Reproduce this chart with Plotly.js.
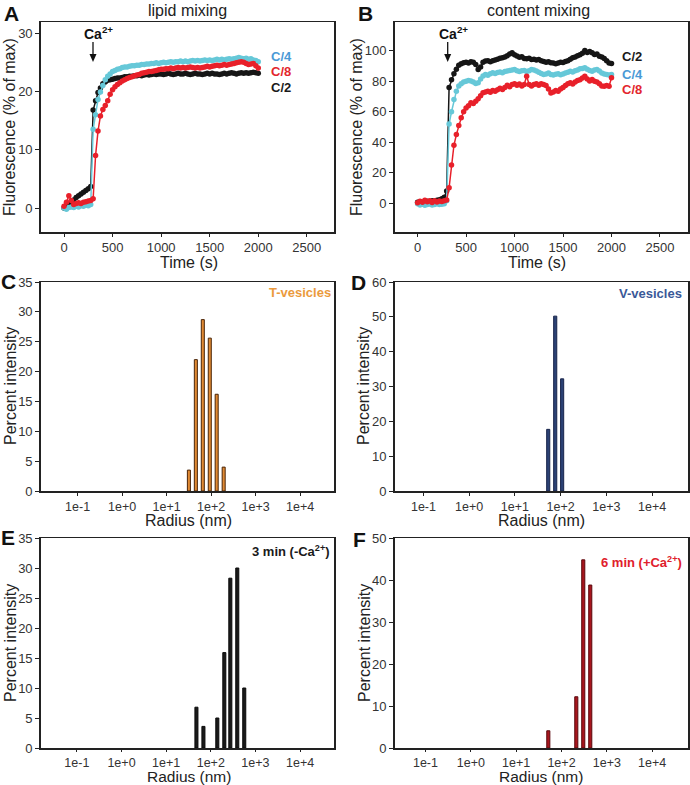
<!DOCTYPE html>
<html>
<head>
<meta charset="utf-8">
<script src="https://cdn.plot.ly/plotly-3.0.1.min.js"></script>
<style>
  body { margin: 0; background: #fff; }
  #graphDiv { width: 690px; height: 785px; }
</style>
</head>
<body>
<div id="graphDiv"></div>
<script>
// Sampling times (s) of the two kinetics panels
var timeS = [0, 25, 50, 75, 100, 125, 150, 175, 200, 225, 250, 275, 300, 325, 350, 375, 400, 425, 450, 475,
    500, 525, 550, 575, 600, 625, 650, 675, 700, 725, 750, 775, 800, 825, 850, 875, 900, 925, 950, 975,
    1000, 1025, 1050, 1075, 1100, 1125, 1150, 1175, 1200, 1225, 1250, 1275, 1300, 1325, 1350, 1375, 1400, 1425, 1450, 1475,
    1500, 1525, 1550, 1575, 1600, 1625, 1650, 1675, 1700, 1725, 1750, 1775, 1800, 1825, 1850, 1875, 1900, 1925, 1950, 1975, 2000];

// A - lipid mixing (% of max)
var lipidC2 = [0.0, 0.4, 0.8, 1.1, 1.4, 1.8, 2.1, 2.4, 2.7, 3.0, 3.3, 3.7,
    16.8, 18.4, 19.8, 20.6, 21.3, 21.6, 21.9, 22.0, 22.1,
    22.2, 22.3, 22.3, 22.4, 22.5, 22.5, 22.6,
    22.6, 22.7, 22.7, 22.8, 22.7, 22.8, 22.9, 22.8, 22.9, 23.0, 22.9, 23.0,
    23.0, 22.9, 23.0, 23.1, 23.0, 22.9, 23.0, 23.1, 23.0, 23.0,
    23.1, 23.0, 22.9, 23.0, 23.1, 23.0, 23.0, 22.9, 23.0, 23.1,
    23.0, 23.1, 23.0, 23.0, 22.9, 23.0, 23.1, 23.0, 23.1, 23.2,
    23.1, 23.0, 23.1, 23.2, 23.1, 23.2, 23.1, 23.2, 23.3, 23.2, 23.1];
var lipidC4 = [0.0, -0.2, 0.1, 0.2, 0.1, 0.3, 0.2, 0.4, 0.3, 0.5, 0.4, 0.6,
    13.5, 16.0, 18.6, 19.9, 21.0, 22.0, 22.6, 23.0, 23.4,
    23.6, 23.8, 23.9, 24.1, 24.2, 24.2, 24.3,
    24.4, 24.4, 24.5, 24.5, 24.6, 24.6, 24.7, 24.7, 24.8, 24.8, 24.9, 24.8,
    24.9, 25.0, 24.9, 25.0, 25.1, 25.0, 25.1, 25.1, 25.2, 25.1,
    25.2, 25.1, 25.2, 25.3, 25.2, 25.3, 25.2, 25.3, 25.4, 25.3,
    25.4, 25.3, 25.4, 25.5, 25.4, 25.5, 25.4, 25.5, 25.6, 25.5,
    25.6, 25.7, 25.8, 25.7, 25.6, 25.7, 25.5, 25.6, 25.4, 25.3, 25.1];
var lipidC8 = [0.3, 1.0, 2.1, 1.3, 0.6, 0.8, 0.9, 0.8, 1.0, 1.1, 1.2, 1.3,
    1.6, 9.0, 13.2, 15.8, 16.9, 17.6, 18.4, 19.5, 20.3,
    20.8, 21.2, 21.5, 21.8, 22.0, 22.2, 22.4,
    22.5, 22.7, 22.8, 22.9, 23.1, 23.2, 23.3, 23.4, 23.4, 23.5, 23.6, 23.7,
    23.8, 23.8, 23.9, 23.9, 24.0, 23.9, 24.0, 24.1, 24.0, 24.1,
    24.0, 24.1, 24.2, 24.1, 24.0, 24.1, 24.0, 24.1, 24.2, 24.3,
    24.2, 24.3, 24.4, 24.5, 24.4, 24.5, 24.6, 24.5, 24.6, 24.7,
    24.8, 24.9, 25.0, 25.1, 25.0, 24.8, 24.6, 24.7, 24.8, 24.4, 24.0];

// B - content mixing (% of max)
var contentC2 = [0.5, 0.8, 0.3, 1.0, 1.2, 0.9, 1.5, 1.3, 1.8, 2.2, 2.8, 3.8,
    8.0, 76.0, 81.0, 85.0, 88.0, 90.5, 91.5, 92.3, 92.5,
    92.0, 92.8, 92.5, 91.0, 87.8, 89.5, 92.5,
    93.3, 93.5, 92.8, 93.6, 94.0, 94.5, 95.2, 95.5, 96.0, 96.8, 98.0, 98.8,
    97.5, 96.6, 95.8, 96.2, 95.0, 94.8, 95.2, 94.4, 94.6, 94.0,
    94.4, 93.5, 93.0, 92.6, 92.8, 92.2, 92.0, 91.6, 92.0, 92.6,
    92.4, 93.0, 93.5, 94.6, 95.5, 96.0, 96.8, 97.5, 98.5, 100.3,
    99.0, 99.6, 98.8, 97.6, 98.0, 96.5, 96.0, 95.0, 93.5, 92.0, 91.8];
var contentC4 = [-0.5, -1.2, -0.8, -1.5, -1.0, -0.6, -1.2, -0.9, -0.5, -1.0, -0.8, -0.4,
    1.5, 52.0, 60.0, 68.0, 73.5, 77.0, 78.5, 79.5, 80.0,
    80.5, 80.2, 79.5, 78.6, 79.0, 81.5, 83.5,
    84.5, 84.0, 85.0, 85.6, 85.2, 85.8, 86.2, 85.6, 86.5, 86.8, 87.2, 87.5,
    87.8, 87.0, 86.5, 86.9, 87.2, 86.4, 87.0, 87.8, 87.5, 86.8,
    86.0, 85.2, 84.5, 84.8, 85.5, 84.5, 84.2, 84.6, 85.0, 84.4,
    84.8, 85.5, 86.0, 86.7, 86.2, 87.0, 87.5, 88.2, 88.5, 88.9,
    88.0, 87.2, 86.7, 87.5, 87.8, 86.8, 85.5, 84.8, 84.5, 84.2, 84.5];
var contentC8 = [0.3, 1.2, 0.5, 1.8, 0.8, 1.5, 0.4, 1.6, 0.7, 1.3, 1.0, 1.5,
    2.0, 10.0, 25.0, 38.0, 45.0, 51.0, 56.0, 60.0, 62.5,
    64.0, 66.0, 65.5, 67.0, 68.5, 70.5, 72.5,
    73.0, 73.5, 72.8, 74.0, 73.5, 74.5, 75.5, 74.6, 76.0, 77.5, 76.5, 78.0,
    78.5, 77.5, 78.2, 77.0, 78.0, 83.4, 78.0, 77.0, 78.0, 78.5,
    77.5, 78.5, 78.0, 77.2, 75.0, 72.4, 73.0, 74.0, 73.5, 75.0,
    76.0, 77.2, 78.5, 79.0, 78.2, 79.5, 80.5, 81.0, 82.2, 83.4,
    81.5, 80.2, 81.2, 80.0, 79.5, 78.5, 77.0, 76.8, 77.2, 76.8, 82.3];

// C-F - size distributions, radius (nm) and percent intensity
var tRadius = [31.6, 45.3, 64.9, 93.1, 133, 191];
var tIntensity = [3.5, 22.0, 28.7, 25.6, 16.2, 4.0];
var vRadius = [53.6, 76.2, 108];
var vIntensity = [17.7, 50.2, 32.2];
var minusCaRadius = [47.7, 68.4, 140, 201, 274, 392, 562];
var minusCaIntensity = [6.8, 3.6, 5.0, 15.9, 28.3, 30.0, 10.0];
var plusCaRadius = [51.2, 212, 302, 431];
var plusCaIntensity = [4.1, 12.2, 44.8, 38.8];

// radius axis: decades, labelled like the original
var decadeTicks = [-1, 0, 1, 2, 3, 4];
var decadeText = ['1e-1', '1e+0', '1e+1', '1e+2', '1e+3', '1e+4'];

const W = 690, H = 785;
const px = (x) => x / W;
const py = (y) => 1 - y / H;
const FONT = 'Liberation Sans, Arial, sans-serif';

const kin = (x, y, xa, ya, color) => ({
    x: x, y: y, xaxis: xa, yaxis: ya,
    mode: 'lines+markers', type: 'scatter',
    line: { color: color, width: 1.5 },
    marker: { color: color, size: 5.5 },
    hoverinfo: 'none'
});

// bars are placed on a log10 scale of the radius
const bars = (r, y, xa, ya, fill, edge) => ({
    x: r.map(Math.log10), y: y, xaxis: xa, yaxis: ya, type: 'bar',
    width: 0.068,
    marker: { color: fill, line: { color: edge, width: 1 } },
    hoverinfo: 'none'
});

var data = [
    kin(timeS, lipidC2, 'x', 'y', '#161616'),
    kin(timeS, lipidC4, 'x', 'y', '#66c8d8'),
    kin(timeS, lipidC8, 'x', 'y', '#e8202a'),
    kin(timeS, contentC2, 'x2', 'y2', '#161616'),
    kin(timeS, contentC4, 'x2', 'y2', '#66c8d8'),
    kin(timeS, contentC8, 'x2', 'y2', '#e8202a'),
    bars(tRadius, tIntensity, 'x3', 'y3', '#e08a34', '#4a2508'),
    bars(vRadius, vIntensity, 'x4', 'y4', '#2c4274', '#18244a'),
    bars(minusCaRadius, minusCaIntensity, 'x5', 'y5', '#1a1a1a', '#0a0a0a'),
    bars(plusCaRadius, plusCaIntensity, 'x6', 'y6', '#a8161e', '#5a080c')
];

const axis = (extra) => Object.assign({
    showline: true, linecolor: '#222', linewidth: 1.5, mirror: true,
    ticks: 'outside', ticklen: 4, tickwidth: 1, tickcolor: '#222',
    showgrid: false, zeroline: false, fixedrange: true,
    tickfont: { family: FONT, size: 13, color: '#333' }
}, extra);

const radiusAxis = (domain, range, anchor, tl) => axis({
    domain: domain, range: range, anchor: anchor, ticklen: tl,
    tickfont: { family: FONT, size: 12.5, color: '#333' },
    tickmode: 'array', tickvals: decadeTicks, ticktext: decadeText
});

var timeTicks = [0, 500, 1000, 1500, 2000, 2500];

var rowA = [py(232), py(22)];
var rowC = [py(491), py(282)];
var rowE = [py(748), py(538)];
var colL = [px(40.7), px(334)];
var colR = [px(394.5), px(688)];

var layout = {
    width: W, height: H,
    margin: { l: 0, r: 0, t: 0, b: 0 },
    paper_bgcolor: '#fff', plot_bgcolor: '#fff',
    showlegend: false,
    bargap: 0,
    font: { family: FONT, color: '#222' },
    xaxis: axis({ domain: colL, range: [-240, 2780], anchor: 'y', tickvals: timeTicks, ticklen: 3 }),
    yaxis: axis({ domain: rowA, range: [-4.1, 31.9], anchor: 'x', tickvals: [0, 10, 20, 30] }),
    xaxis2: axis({ domain: colR, range: [-238, 2789], anchor: 'y2', tickvals: timeTicks, ticklen: 3 }),
    yaxis2: axis({ domain: rowA, range: [-19, 119], anchor: 'x2', tickvals: [0, 20, 40, 60, 80, 100] }),
    xaxis3: radiusAxis(colL, [-1.83, 4.76], 'y3', 3),
    yaxis3: axis({ domain: rowC, range: [0, 35], anchor: 'x3', dtick: 5 }),
    xaxis4: radiusAxis(colR, [-1.633, 4.786], 'y4', 3),
    yaxis4: axis({ domain: rowC, range: [0, 60], anchor: 'x4', dtick: 10 }),
    xaxis5: radiusAxis(colL, [-1.81, 4.76], 'y5', 2),
    yaxis5: axis({ domain: rowE, range: [0, 35], anchor: 'x5', dtick: 5 }),
    xaxis6: radiusAxis(colR, [-1.683, 4.79], 'y6', 2),
    yaxis6: axis({ domain: rowE, range: [0, 50], anchor: 'x6', dtick: 10 }),
    annotations: [],
    shapes: []
};

// text helper, positions in pixels of the 690x785 figure
const note = (text, x, y, opts) => Object.assign({
    text: text, xref: 'paper', yref: 'paper', x: px(x), y: py(y),
    xanchor: 'center', yanchor: 'middle', showarrow: false, borderpad: 0,
    font: { family: FONT, size: 16, color: '#222' }
}, opts || {});

var A = layout.annotations;
// panel letters
[['A', 3, 14], ['B', 357, 14], ['C', 0, 282], ['D', 350, 283], ['E', 0, 537], ['F', 352, 539]].forEach((p) => {
    A.push(note('<b>' + p[0] + '</b>', p[1], p[2], { xanchor: 'left', font: { family: FONT, size: 21, color: '#111' } }));
});
// titles
A.push(note('lipid mixing', 187, 11));
A.push(note('content mixing', 538, 11));
// axis titles
A.push(note('Time (s)', 189, 263));
A.push(note('Time (s)', 537, 263));
A.push(note('Radius (nm)', 189, 520));
A.push(note('Radius (nm)', 541, 520));
A.push(note('Radius (nm)', 189, 776.5, { font: { family: FONT, size: 15.5, color: '#222' } }));
A.push(note('Radius (nm)', 541, 776.5, { font: { family: FONT, size: 15.5, color: '#222' } }));
A.push(note('Fluorescence (% of max)', 10, 127, { textangle: -90 }));
A.push(note('Fluorescence (% of max)', 357, 127, { textangle: -90 }));
A.push(note('Percent intensity', 10, 386, { textangle: -90 }));
A.push(note('Percent intensity', 363, 386, { textangle: -90 }));
A.push(note('Percent intensity', 10, 643, { textangle: -90 }));
A.push(note('Percent intensity', 364, 643, { textangle: -90 }));
// Ca2+ additions: label and down arrow
A.push(note('<b>Ca<sup>2+</sup></b>', 98, 33, { font: { family: FONT, size: 14, color: '#111' } }));
A.push(note('<b>Ca<sup>2+</sup></b>', 453, 33, { font: { family: FONT, size: 14, color: '#111' } }));
[93, 447.7].forEach((x) => {
    layout.shapes.push({ type: 'line', xref: 'paper', yref: 'paper', x0: px(x), x1: px(x), y0: py(42), y1: py(55),
        line: { color: '#111', width: 1.3 } });
    layout.shapes.push({ type: 'path', xref: 'paper', yref: 'paper',
        path: 'M ' + px(x - 3.5) + ' ' + py(54) + ' L ' + px(x + 3.5) + ' ' + py(54) + ' L ' + px(x) + ' ' + py(62) + ' Z',
        fillcolor: '#111', line: { width: 0 } });
});
// series labels
const lab = (t, x, y, c) => note('<b>' + t + '</b>', x, y, { font: { family: FONT, size: 13, color: c } });
A.push(lab('C/4', 281, 57, '#4a9ad6'));
A.push(lab('C/8', 281, 71.5, '#e3262d'));
A.push(lab('C/2', 281, 88, '#1a1a1a'));
A.push(lab('C/2', 632, 57, '#1a1a1a'));
A.push(lab('C/4', 632, 75, '#4a9ad6'));
A.push(lab('C/8', 632, 90, '#e3262d'));
// sample labels
const tag = (t, x, y, c) => note('<b>' + t + '</b>', x, y, { xanchor: 'right', font: { family: FONT, size: 13, color: c } });
A.push(tag('T-vesicles', 332, 293, '#eb9a3c'));
A.push(tag('V-vesicles', 683, 294, '#3a5898'));
A.push(tag('3 min (-Ca<sup>2+</sup>)', 331, 551, '#1a1a1a'));
A.push(tag('6 min (+Ca<sup>2+</sup>)', 683, 562, '#e0202c'));

graphDiv = document.getElementById('graphDiv');
Plotly.newPlot(graphDiv, data, layout, { displayModeBar: false, staticPlot: true });
</script>
</body>
</html>
